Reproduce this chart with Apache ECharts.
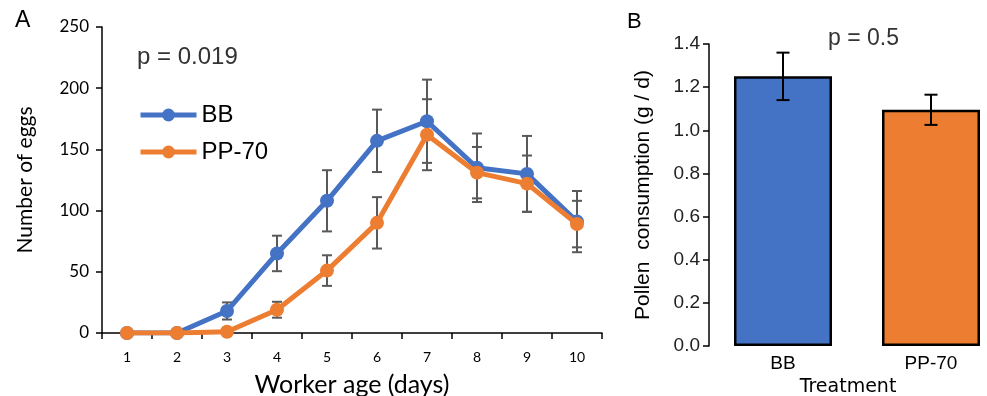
<!DOCTYPE html>
<html>
<head>
<meta charset="utf-8">
<script src="https://cdn.jsdelivr.net/npm/echarts@6/dist/echarts.min.js"></script>
<style>
  html, body { margin: 0; padding: 0; background: #fff; }
  #chart { width: 987px; height: 396px; }
</style>
</head>
<body>
<div id="chart"></div>
<script>
// panel A: eggs by worker age
const days = ['1', '2', '3', '4', '5', '6', '7', '8', '9', '10'];
const bbEggs = [0, 0, 18, 65, 108, 157, 173, 135, 130, 91];
const ppEggs = [0, 0, 1, 19, 51, 90, 162, 131, 122, 89];
const bbErr = [0, 0, 7, 14.5, 25, 25.5, 34, 28, 31, 25];
const ppErr = [0, 0, 0, 6.5, 12.5, 21, 29, 21, 23, 19];

// panel B: pollen consumption
const treatments = ['BB', 'PP-70'];
const pollen = [1.25, 1.095];
const pollenErr = [0.11, 0.07];

const blue = '#4472C4';
const orange = '#ED7D31';
const sans = '"Liberation Sans", Arial, sans-serif';
const soft = 'Lato, "Open Sans", sans-serif';

function errData(vals, errs) {
    return vals.map((v, i) => [i, v - errs[i], v + errs[i], errs[i]]);
}

function errRender(capW, color) {
    return function (params, api) {
        if (!api.value(3)) return null;
        const lo = api.coord([api.value(0), api.value(1)]);
        const hi = api.coord([api.value(0), api.value(2)]);
        const st = { stroke: color, lineWidth: 2 };
        return {
            type: 'group',
            children: [
                { type: 'line', shape: { x1: lo[0], y1: lo[1], x2: hi[0], y2: hi[1] }, style: st },
                { type: 'line', shape: { x1: lo[0] - capW / 2, y1: lo[1], x2: lo[0] + capW / 2, y2: lo[1] }, style: st },
                { type: 'line', shape: { x1: hi[0] - capW / 2, y1: hi[1], x2: hi[0] + capW / 2, y2: hi[1] }, style: st }
            ]
        };
    };
}

const chart = echarts.init(document.getElementById('chart'));

const options = {
    animation: false,
    backgroundColor: '#fff',
    grid: [
        { left: 102, top: 27, width: 500, height: 306, outerBoundsMode: 'none' },
        { left: 709, top: 44, width: 296, height: 302, outerBoundsMode: 'none' }
    ],
    legend: {
        orient: 'vertical',
        left: 133,
        top: 98,
        itemWidth: 56,
        itemHeight: 16,
        itemGap: 13,
        data: ['BB', 'PP-70'],
        lineStyle: { width: 5 },
        textStyle: { fontSize: 24, color: '#000', fontFamily: sans }
    },
    graphic: [
        { type: 'text', left: 15, top: 9, style: { text: 'A', fontSize: 23, fill: '#000', fontFamily: sans } },
        { type: 'text', left: 627, top: 11, style: { text: 'B', fontSize: 22, fill: '#000', fontFamily: sans } },
        { type: 'text', left: 137, top: 45, style: { text: 'p = 0.019', fontSize: 24, fill: '#333', fontFamily: sans } },
        { type: 'text', left: 828, top: 27, style: { text: 'p = 0.5', fontSize: 23, fill: '#333', fontFamily: sans } }
    ],
    xAxis: [
        {
            gridIndex: 0,
            type: 'category',
            data: days,
            boundaryGap: true,
            axisLine: { show: true, lineStyle: { color: '#000', width: 1.5 } },
            axisTick: { show: true, length: 6, lineStyle: { color: '#000', width: 1.5 } },
            axisLabel: { fontSize: 14, color: '#000', margin: 17, fontFamily: soft },
            name: 'Worker age (days)',
            nameLocation: 'middle',
            nameGap: 39,
            nameTextStyle: { fontSize: 25, color: '#000', fontFamily: soft }
        },
        {
            gridIndex: 1,
            type: 'category',
            data: treatments,
            axisLine: { show: false },
            axisTick: { show: false },
            axisLabel: { fontSize: 19, color: '#000', margin: 8, fontFamily: sans },
            name: 'Treatment',
            nameLocation: 'middle',
            nameGap: 29,
            nameTextStyle: { fontSize: 19, color: '#000', fontFamily: '"DejaVu Sans", sans-serif', padding: [0, 18, 0, 0] }
        }
    ],
    yAxis: [
        {
            gridIndex: 0,
            type: 'value',
            min: 0,
            max: 250,
            interval: 50,
            splitLine: { show: false },
            axisLine: { show: true, lineStyle: { color: '#000', width: 1.5 } },
            axisTick: { show: true, length: 6, lineStyle: { color: '#000', width: 1.5 } },
            axisLabel: { fontSize: 17, color: '#000', margin: 13, fontFamily: soft },
            name: 'Number of eggs',
            nameLocation: 'middle',
            nameGap: 66,
            nameTextStyle: { fontSize: 21, color: '#000', fontFamily: soft }
        },
        {
            gridIndex: 1,
            type: 'value',
            min: 0,
            max: 1.4,
            interval: 0.2,
            splitLine: { show: false },
            axisLine: { show: true, lineStyle: { color: '#000', width: 1.5 } },
            axisTick: { show: true, length: 6, lineStyle: { color: '#000', width: 1.5 } },
            axisLabel: { fontSize: 19, color: '#222', margin: 9, fontFamily: sans, formatter: (v) => v.toFixed(1) },
            name: 'Pollen  consumption (g / d)',
            nameLocation: 'middle',
            nameGap: 55,
            nameTextStyle: { fontSize: 21, color: '#000', fontFamily: sans }
        }
    ],
    series: [
        {
            type: 'custom',
            xAxisIndex: 0,
            yAxisIndex: 0,
            z: 1,
            renderItem: errRender(10, '#595959'),
            data: errData(bbEggs, bbErr)
        },
        {
            type: 'custom',
            xAxisIndex: 0,
            yAxisIndex: 0,
            z: 1,
            renderItem: errRender(10, '#595959'),
            data: errData(ppEggs, ppErr)
        },
        {
            name: 'BB',
            type: 'line',
            xAxisIndex: 0,
            yAxisIndex: 0,
            z: 3,
            data: bbEggs,
            symbol: 'circle',
            symbolSize: 14,
            color: blue,
            itemStyle: { color: blue },
            lineStyle: { color: blue, width: 5 }
        },
        {
            name: 'PP-70',
            type: 'line',
            xAxisIndex: 0,
            yAxisIndex: 0,
            z: 4,
            data: ppEggs,
            symbol: 'circle',
            symbolSize: 14,
            color: orange,
            itemStyle: { color: orange },
            lineStyle: { color: orange, width: 5 }
        },
        {
            type: 'bar',
            xAxisIndex: 1,
            yAxisIndex: 1,
            barWidth: 98,
            z: 2,
            data: pollen.map((v, i) => ({
                value: v,
                itemStyle: { color: i === 0 ? blue : orange, borderColor: '#000', borderWidth: 2.5 }
            }))
        },
        {
            type: 'custom',
            xAxisIndex: 1,
            yAxisIndex: 1,
            z: 5,
            renderItem: errRender(13, '#000'),
            data: errData(pollen, pollenErr)
        }
    ]
};

chart.setOption(options);
</script>
</body>
</html>
